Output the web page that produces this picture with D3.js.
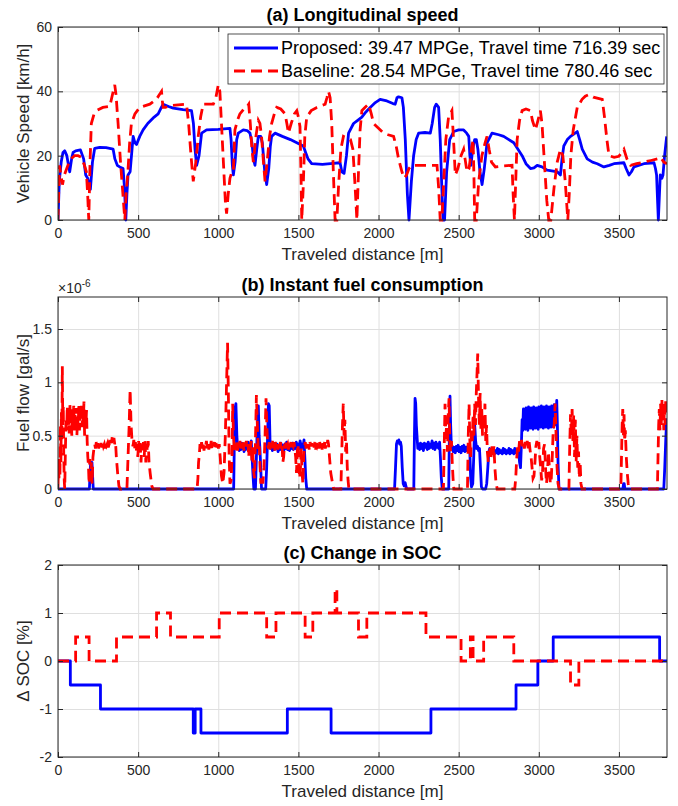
<!DOCTYPE html>
<html>
<head>
<meta charset="utf-8">
<script src="https://cdn.jsdelivr.net/npm/d3@7"></script>
<style>
  body { margin: 0; background: #fff; }
  svg { font-family: "Liberation Sans", Arial, Helvetica, sans-serif; }
  .grid line { stroke: #dfdfdf; stroke-width: 1; }
  .grid path { display: none; }
  .axis path { display: none; }
  .axis line { stroke: #262626; }
  .axis text { fill: #262626; font-size: 14px; }
  .frame { fill: none; stroke: #262626; stroke-width: 1; }
  .title { font-weight: bold; font-size: 18px; fill: #000; text-anchor: middle; }
  .label { font-size: 17px; fill: #262626; text-anchor: middle; }
</style>
</head>
<body>
<script>
(function(){

    // x ticks shared by all three panels
    var distTicks = [0, 500, 1000, 1500, 2000, 2500, 3000, 3500];
    var speedTicks = [0, 20, 40, 60];
    var fuelTicks = [0, 0.5, 1, 1.5];
    var socTicks = [-2, -1, 0, 1, 2];

    var legendLabels = [
        "Proposed: 39.47 MPGe, Travel time 716.39 sec",
        "Baseline: 28.54 MPGe, Travel time 780.46 sec"
    ];

    // [distance m, speed km/h]
    var propSpeed = [[0,0],[8,12],[20,18],[31,21],[42,21.5],[55,20],[73,15],[85,19],[94,21],[110,21.5],[140,21.8],[160,19],[173,14],[185,13],[202,9.5],[215,18],[229,22.3],[260,22.6],[300,22.5],[344,22],[355,19],[370,17],[385,16.5],[406,16],[415,10],[423,0],[430,8],[437,14],[450,15],[462,22],[469,26],[480,24],[490,23.5],[510,26],[531,28],[560,30],[600,32],[625,33],[645,35],[656,36],[690,35.3],[719,34.8],[780,34.3],[833,34],[845,30],[855,22],[865,17],[880,20],[896,27],[927,28],[1000,28.2],[1073,28.5],[1080,25],[1088,17],[1094,14],[1105,18],[1115,25],[1125,27],[1156,28],[1180,27.8],[1198,27],[1210,24],[1220,19],[1229,17],[1240,22],[1250,26],[1265,26],[1275,24],[1290,15],[1302,11],[1315,16],[1325,23],[1333,26],[1354,27],[1400,26],[1450,25],[1490,24],[1531,23],[1545,21],[1560,19],[1583,17.5],[1650,17.3],[1700,17.5],[1760,17.8],[1771,15],[1785,14.5],[1800,20],[1813,27],[1844,30],[1870,31],[1896,32],[1920,33.5],[1948,35],[1980,36.5],[2010,37.5],[2052,37],[2090,36.2],[2104,36],[2115,38],[2125,38.3],[2146,38],[2155,35],[2167,25],[2180,8],[2190,0],[2205,12],[2219,20],[2235,25],[2250,27],[2290,27.2],[2323,27],[2335,30],[2350,35],[2360,36],[2375,35],[2385,25],[2395,10],[2403,0],[2412,0],[2425,15],[2444,25],[2469,27.5],[2500,28],[2531,28],[2550,27],[2563,26],[2570,20],[2577,17],[2587,22],[2600,25],[2610,25],[2620,22],[2633,15],[2646,11],[2660,16],[2677,24],[2708,27],[2750,26.5],[2781,26],[2844,24],[2870,22],[2896,20],[2920,17.5],[2948,16],[2970,16.2],[2990,17],[3020,16.5],[3052,15.5],[3090,15.2],[3115,15],[3135,14],[3145,19],[3156,23],[3178,25],[3198,26],[3220,26.8],[3240,27.5],[3255,25],[3271,22],[3302,19],[3335,18],[3365,17.5],[3406,16.5],[3440,17],[3469,17.5],[3531,17.8],[3545,16],[3563,14],[3578,15],[3594,16.5],[3656,17.5],[3719,17.8],[3728,16],[3735,14],[3742,5],[3746,0],[3752,7],[3758,14],[3768,13],[3775,14],[3785,20],[3798,26]];

    var baseSpeed = [[0,0],[5,10],[10,17],[18,14],[28,11],[40,14],[62,17],[80,19],[104,20],[125,20],[146,19.5],[165,17],[177,15],[185,8],[192,0],[200,18],[208,30],[225,33],[240,34],[280,35],[323,35.3],[340,39],[354,42],[362,39],[375,30],[390,18],[405,8],[417,0],[425,8],[435,14],[447,24],[458,30],[480,33],[510,35],[540,35.5],[573,36],[600,37],[620,38],[646,40],[651,37],[656,35],[670,35],[698,35.5],[750,35.8],[802,36],[815,30],[830,20],[844,12],[860,18],[875,26],[890,32],[906,36],[969,36],[985,38],[1000,42],[1010,40],[1020,30],[1035,15],[1045,5],[1052,2],[1062,8],[1073,13],[1085,15],[1094,15],[1104,28],[1120,31],[1135,33],[1160,34.5],[1177,35],[1190,36],[1200,30],[1210,22],[1219,18],[1235,26],[1250,31],[1260,30],[1270,26],[1282,18],[1292,12],[1305,18],[1320,26],[1333,30],[1350,33],[1365,35],[1390,34.5],[1417,33],[1428,30],[1438,27],[1455,30],[1475,33],[1490,34],[1500,32],[1510,29],[1516,15],[1521,0],[1530,10],[1540,26],[1552,32],[1580,34],[1615,35],[1640,35.5],[1667,36],[1678,38],[1688,40],[1698,38],[1708,30],[1718,15],[1729,0],[1740,0],[1750,10],[1765,22],[1781,26],[1800,25.5],[1825,25],[1840,22],[1852,12],[1865,0],[1875,15],[1885,28],[1896,34],[1915,35],[1938,36],[1955,33],[1969,30],[2000,28.5],[2031,27],[2060,26.5],[2094,26],[2110,23],[2125,19],[2146,15],[2160,13],[2175,14],[2190,16],[2208,17],[2280,17],[2340,17],[2365,17],[2375,10],[2385,0],[2395,0],[2405,10],[2420,25],[2437,32],[2458,34],[2468,25],[2479,14],[2495,16],[2515,20],[2531,22],[2540,19],[2552,15],[2565,16],[2580,22],[2590,25],[2596,12],[2600,0],[2610,0],[2625,12],[2645,20],[2665,24],[2677,26],[2690,22],[2705,18],[2729,16.5],[2780,16.8],[2833,17],[2840,8],[2848,0],[2856,12],[2865,25],[2880,31],[2896,34],[2920,34.5],[2948,34],[2960,31],[2979,28],[2995,31],[3010,34],[3020,30],[3035,18],[3050,6],[3062,0],[3075,0],[3095,10],[3115,18],[3135,22],[3150,20],[3165,12],[3181,0],[3190,8],[3200,20],[3215,28],[3240,35],[3270,37.5],[3290,38.5],[3313,39],[3340,38.2],[3396,37.5],[3410,32],[3425,25],[3438,20],[3470,19.5],[3500,19.8],[3531,22],[3550,19],[3573,17],[3610,17.5],[3656,18],[3700,18.5],[3740,19],[3760,19.5],[3780,18],[3800,17.5]];

    // [distance m, fuel flow x1e-6 gal/s]
    var propFuel = [[0,0],[196,0],[200,0.15],[204,0.25],[208,0.24],[212,0.25],[216,0.12],[220,0],[1096,0],[1100,0.4],[1104,0.75],[1110,0.8],[1116,0.5],[1121,0.38],[1126,0.42],[1131,0.36],[1136,0.41],[1141,0.37],[1146,0.43],[1151,0.38],[1156,0.42],[1161,0.35],[1166,0.4],[1171,0.37],[1176,0.42],[1181,0.38],[1186,0.44],[1191,0.37],[1196,0.42],[1201,0.38],[1206,0.45],[1211,0.3],[1216,0.15],[1222,0],[1232,0],[1238,0.3],[1244,0.6],[1250,0.78],[1255,0.5],[1260,0.38],[1265,0.2],[1270,0],[1296,0],[1302,0.2],[1308,0.5],[1313,0.8],[1318,0.78],[1323,0.45],[1328,0.38],[1333,0.42],[1338,0.36],[1343,0.41],[1349,0.37],[1355,0.43],[1361,0.38],[1367,0.42],[1373,0.35],[1379,0.41],[1385,0.37],[1391,0.43],[1397,0.38],[1403,0.41],[1409,0.36],[1415,0.42],[1421,0.38],[1427,0.44],[1433,0.37],[1439,0.41],[1445,0.36],[1451,0.42],[1457,0.38],[1463,0.43],[1469,0.37],[1475,0.41],[1481,0.38],[1487,0.44],[1493,0.36],[1499,0.42],[1505,0.38],[1511,0.45],[1517,0.37],[1523,0.42],[1529,0.39],[1535,0.46],[1540,0.3],[1546,0.1],[1552,0],[2100,0],[2106,0.2],[2112,0.42],[2117,0.45],[2122,0.44],[2127,0.46],[2132,0.42],[2137,0.44],[2142,0.4],[2148,0.2],[2154,0.05],[2160,0.03],[2166,0.06],[2172,0.02],[2178,0],[2220,0],[2224,0.5],[2228,0.85],[2232,0.8],[2236,0.6],[2240,0.5],[2245,0.38],[2250,0.42],[2256,0.37],[2262,0.43],[2268,0.38],[2274,0.42],[2280,0.36],[2286,0.43],[2292,0.39],[2298,0.42],[2304,0.37],[2310,0.44],[2316,0.38],[2322,0.42],[2328,0.39],[2334,0.45],[2340,0.38],[2346,0.43],[2352,0.37],[2358,0.44],[2364,0.39],[2370,0.42],[2376,0.38],[2381,0.44],[2386,0.3],[2392,0.1],[2398,0],[2438,0],[2442,0.5],[2446,0.87],[2450,0.6],[2455,0.38],[2461,0.4],[2467,0.35],[2473,0.39],[2479,0.34],[2485,0.4],[2491,0.36],[2497,0.41],[2503,0.35],[2509,0.39],[2515,0.34],[2521,0.4],[2527,0.36],[2533,0.41],[2539,0.35],[2545,0.39],[2551,0.36],[2557,0.4],[2563,0.35],[2569,0.38],[2575,0.1],[2580,0.02],[2588,0.05],[2594,0.3],[2600,0.6],[2606,0.45],[2612,0.38],[2618,0.4],[2624,0.36],[2630,0.38],[2636,0.2],[2642,0.02],[2650,0],[2668,0],[2675,0.05],[2682,0.2],[2688,0.35],[2694,0.38],[2700,0.33],[2706,0.37],[2712,0.34],[2718,0.38],[2724,0.33],[2730,0.36],[2736,0.34],[2742,0.38],[2748,0.33],[2754,0.37],[2760,0.34],[2766,0.36],[2772,0.33],[2778,0.38],[2784,0.34],[2790,0.37],[2796,0.33],[2802,0.36],[2808,0.34],[2814,0.38],[2820,0.33],[2826,0.37],[2832,0.34],[2838,0.36],[2844,0.33],[2850,0.38],[2856,0.34],[2862,0.36],[2868,0.33],[2875,0.35],[2880,0.25],[2886,0.2],[2891,0.4],[2896,0.65],[2900,0.55],[2904,0.75],[2908,0.58],[2912,0.72],[2916,0.56],[2920,0.76],[2924,0.6],[2928,0.73],[2932,0.55],[2936,0.77],[2940,0.6],[2944,0.74],[2948,0.57],[2952,0.76],[2956,0.6],[2960,0.72],[2964,0.56],[2968,0.77],[2972,0.6],[2976,0.75],[2980,0.57],[2984,0.76],[2988,0.6],[2992,0.73],[2996,0.56],[3000,0.77],[3004,0.61],[3008,0.74],[3012,0.58],[3016,0.78],[3020,0.6],[3024,0.74],[3028,0.57],[3032,0.77],[3036,0.61],[3040,0.75],[3044,0.58],[3048,0.78],[3052,0.6],[3056,0.74],[3060,0.57],[3064,0.77],[3068,0.61],[3072,0.76],[3076,0.58],[3080,0.78],[3084,0.6],[3088,0.75],[3092,0.58],[3096,0.79],[3100,0.6],[3104,0.76],[3108,0.62],[3112,0.83],[3116,0.6],[3120,0.25],[3126,0],[3525,0],[3529,0.05],[3533,0.05],[3537,0],[3780,0],[3786,0.2],[3792,0.45],[3798,0.65],[3800,0.66]];

    var baseFuel = [[0,0],[3,0.25],[6,0.1],[9,0.3],[12,0.12],[15,0.6],[18,0.25],[21,0.72],[24,0.45],[27,1.15],[30,0.6],[33,0.78],[36,0.3],[39,0.08],[42,0],[46,0.35],[50,0.66],[54,0.55],[58,0.78],[62,0.6],[66,0.73],[70,0.52],[74,0.8],[78,0.62],[82,0.76],[86,0.5],[90,0.7],[94,0.6],[98,0.78],[102,0.55],[106,0.7],[110,0.62],[114,0.76],[118,0.5],[122,0.68],[126,0.6],[130,0.8],[134,0.55],[138,0.72],[142,0.65],[146,0.8],[150,0.58],[154,0.76],[158,0.62],[162,0.82],[166,0.5],[170,0.72],[174,0.6],[178,0.74],[182,0.45],[186,0.3],[190,0.22],[194,0.05],[198,0.28],[203,0.1],[208,0.25],[213,0.05],[218,0.3],[224,0.38],[229,0.42],[234,0.38],[239,0.44],[244,0.4],[249,0.43],[254,0.38],[259,0.44],[264,0.4],[269,0.43],[274,0.39],[279,0.44],[284,0.4],[289,0.42],[294,0.38],[299,0.44],[304,0.41],[309,0.43],[314,0.39],[319,0.42],[324,0.4],[329,0.46],[334,0.43],[339,0.5],[344,0.45],[349,0.48],[354,0.42],[359,0.44],[364,0.3],[372,0.15],[380,0.03],[388,0],[430,0],[437,0.3],[444,0.6],[450,0.93],[456,0.6],[462,0.45],[468,0.4],[473,0.46],[478,0.38],[483,0.44],[488,0.35],[493,0.42],[498,0.3],[503,0.45],[508,0.36],[513,0.43],[518,0.25],[523,0.42],[528,0.36],[533,0.44],[538,0.3],[543,0.45],[548,0.25],[553,0.42],[558,0.35],[563,0.45],[568,0.25],[575,0.15],[585,0.03],[594,0],[868,0],[873,0.1],[877,0.25],[882,0.32],[886,0.42],[891,0.37],[896,0.44],[901,0.38],[906,0.43],[911,0.36],[916,0.42],[921,0.4],[926,0.45],[931,0.38],[936,0.43],[941,0.37],[946,0.42],[951,0.39],[956,0.45],[961,0.38],[966,0.43],[971,0.4],[976,0.44],[981,0.37],[986,0.43],[991,0.39],[996,0.44],[1001,0.38],[1006,0.42],[1012,0.3],[1020,0.12],[1028,0.05],[1036,0.15],[1044,0.5],[1052,1.0],[1058,1.37],[1063,0.9],[1068,0.3],[1073,0.05],[1080,0.08],[1086,0.3],[1090,0.8],[1095,0.5],[1100,0.35],[1105,0.42],[1110,0.38],[1115,0.44],[1120,0.36],[1125,0.42],[1130,0.39],[1135,0.45],[1140,0.37],[1145,0.43],[1150,0.38],[1155,0.44],[1160,0.36],[1165,0.43],[1170,0.4],[1175,0.45],[1180,0.38],[1185,0.42],[1190,0.3],[1195,0.43],[1200,0.38],[1205,0.45],[1210,0.25],[1215,0.4],[1220,0.18],[1226,0.1],[1232,0.45],[1238,0.88],[1244,0.6],[1250,0.35],[1256,0.4],[1261,0.2],[1266,0.05],[1272,0.12],[1278,0.05],[1285,0.2],[1292,0.5],[1298,0.85],[1303,0.6],[1308,0.42],[1313,0.38],[1318,0.44],[1323,0.37],[1328,0.43],[1333,0.39],[1338,0.45],[1343,0.38],[1348,0.42],[1353,0.36],[1358,0.44],[1363,0.39],[1368,0.42],[1373,0.37],[1378,0.43],[1383,0.4],[1388,0.44],[1393,0.38],[1398,0.42],[1403,0.25],[1408,0.3],[1413,0.42],[1418,0.38],[1423,0.44],[1428,0.4],[1433,0.42],[1438,0.37],[1443,0.43],[1448,0.39],[1453,0.44],[1458,0.38],[1463,0.42],[1468,0.4],[1473,0.44],[1478,0.37],[1483,0.3],[1488,0.15],[1493,0.35],[1498,0.42],[1503,0.2],[1508,0.1],[1513,0.2],[1518,0.38],[1523,0.15],[1528,0.05],[1533,0.3],[1538,0.4],[1543,0.44],[1548,0.38],[1553,0.43],[1558,0.39],[1563,0.42],[1568,0.37],[1573,0.44],[1578,0.4],[1583,0.43],[1588,0.38],[1593,0.42],[1598,0.39],[1603,0.44],[1608,0.37],[1613,0.43],[1618,0.4],[1623,0.42],[1628,0.38],[1633,0.44],[1638,0.39],[1643,0.42],[1648,0.37],[1653,0.43],[1658,0.4],[1663,0.44],[1668,0.38],[1673,0.42],[1678,0.4],[1683,0.46],[1688,0.42],[1694,0.3],[1702,0.15],[1710,0.08],[1720,0],[1765,0],[1770,0.3],[1775,0.6],[1780,0.8],[1785,0.5],[1790,0.65],[1795,0.35],[1800,0.45],[1805,0.2],[1810,0.08],[1815,0],[2405,0],[2410,0.4],[2415,0.8],[2420,0.5],[2425,0.6],[2430,0.35],[2435,0.7],[2440,0.85],[2445,0.45],[2450,0.35],[2455,0.45],[2460,0.25],[2465,0.1],[2470,0],[2555,0],[2560,0.5],[2565,0.8],[2570,0.45],[2575,0.3],[2580,0.55],[2585,0.45],[2590,0.7],[2595,0.5],[2600,0.8],[2605,0.6],[2610,0.9],[2615,1.1],[2619,1.27],[2624,0.85],[2629,0.6],[2634,0.9],[2639,0.55],[2644,0.75],[2649,0.5],[2654,0.7],[2659,0.55],[2664,0.8],[2669,0.45],[2674,0.6],[2679,0.35],[2685,0.25],[2690,0.3],[2696,0.38],[2702,0.3],[2708,0.4],[2714,0.32],[2720,0.4],[2726,0.2],[2732,0.08],[2740,0],[2850,0],[2856,0.1],[2862,0.28],[2868,0.4],[2874,0.35],[2880,0.45],[2886,0.42],[2892,0.46],[2898,0.4],[2904,0.45],[2910,0.38],[2916,0.44],[2922,0.4],[2928,0.45],[2934,0.38],[2940,0.44],[2946,0.36],[2952,0.3],[2958,0.2],[2964,0.1],[2970,0.12],[2976,0.25],[2982,0.4],[2988,0.45],[2994,0.38],[3000,0.44],[3006,0.3],[3012,0.2],[3018,0.08],[3024,0.18],[3030,0.38],[3036,0.42],[3042,0.2],[3048,0.05],[3054,0.15],[3060,0.35],[3066,0.2],[3072,0.05],[3078,0.1],[3084,0.3],[3090,0.55],[3096,0.6],[3102,0.8],[3108,0.5],[3114,0.2],[3120,0.05],[3128,0],[3188,0],[3193,0.4],[3198,0.7],[3203,0.5],[3208,0.75],[3213,0.45],[3218,0.7],[3223,0.3],[3228,0.65],[3233,0.25],[3238,0.5],[3243,0.2],[3248,0.35],[3253,0.1],[3258,0.25],[3263,0.05],[3270,0],[3512,0],[3516,0.3],[3520,0.6],[3524,0.75],[3528,0.5],[3532,0.7],[3536,0.45],[3540,0.55],[3546,0.3],[3552,0.15],[3558,0.05],[3564,0],[3740,0],[3744,0.3],[3748,0.6],[3752,0.75],[3756,0.55],[3760,0.8],[3764,0.6],[3768,0.85],[3772,0.65],[3776,0.78],[3780,0.55],[3784,0.8],[3788,0.6],[3792,0.85],[3796,0.7],[3800,0.82]];

    // [distance m, delta SOC %] step levels, held until the next point
    var propSoc = [[0,0],[77,-0.5],[265,-1],[844,-1.5],[856,-1],[892,-1.5],[1431,-1],[1704,-1.5],[2327,-1],[2858,-0.5],[2994,0],[3090,0.5],[3754,0],[3800,0]];
    var baseSoc = [[0,0],[110,0.5],[194,0],[365,0.5],[615,1],[702,0.5],[1006,1],[1302,0.5],[1360,1],[1542,0.5],[1590,1],[1729,1.5],[1740,1],[1875,0.5],[1927,1],[2296,0.5],[2515,0],[2573,0.5],[2590,0],[2656,0.5],[2844,0],[3198,-0.5],[3250,0],[3800,0]];

    var left = 58, right = 667;

    var svg = d3.select("body")
        .append("svg")
        .attr("width", 678)
        .attr("height", 806);

    var x = d3.scaleLinear()
        .domain([0, 3800])
        .range([left, right]);

    var panels = [
        {id: "a", top: 27, bottom: 220, domain: [0, 60], ticks: speedTicks,
         title: "(a) Longitudinal speed", ylabel: "Vehicle Speed [km/h]",
         prop: propSpeed, base: baseSpeed, curve: d3.curveLinear},
        {id: "b", top: 297, bottom: 489, domain: [0, 1.8], ticks: fuelTicks,
         title: "(b) Instant fuel consumption", ylabel: "Fuel flow [gal/s]",
         prop: propFuel, base: baseFuel, curve: d3.curveLinear},
        {id: "c", top: 565, bottom: 757, domain: [-2, 2], ticks: socTicks,
         title: "(c) Change in SOC", ylabel: "\u0394 SOC [%]",
         prop: propSoc, base: baseSoc, curve: d3.curveStepAfter}
    ];

    panels.forEach(function(p) {
        var h = p.bottom - p.top;
        var y = d3.scaleLinear()
            .domain(p.domain)
            .range([p.bottom, p.top]);

        var g = svg.append("g");

        g.append("rect")
            .attr("x", left).attr("y", p.top)
            .attr("width", right - left).attr("height", h)
            .attr("fill", "#fff");

        // grid
        g.append("g")
            .attr("class", "grid")
            .attr("transform", "translate(0," + p.bottom + ")")
            .call(d3.axisBottom(x).tickValues(distTicks).tickSize(-h).tickFormat(""));
        g.append("g")
            .attr("class", "grid")
            .attr("transform", "translate(" + left + ",0)")
            .call(d3.axisLeft(y).tickValues(p.ticks).tickSize(-(right - left)).tickFormat(""));

        // clip for lines
        svg.append("clipPath")
            .attr("id", "clip-" + p.id)
            .append("rect")
            .attr("x", left).attr("y", p.top - 2)
            .attr("width", right - left).attr("height", h + 4);

        var line = d3.line()
            .x(function(d) { return x(d[0]); })
            .y(function(d) { return y(d[1]); })
            .curve(p.curve);

        var lines = g.append("g").attr("clip-path", "url(#clip-" + p.id + ")");
        lines.append("path")
            .datum(p.prop)
            .attr("d", line)
            .attr("fill", "none")
            .attr("stroke", "#0000ff")
            .attr("stroke-width", 2.8)
            .attr("stroke-linejoin", "round");
        lines.append("path")
            .datum(p.base)
            .attr("d", line)
            .attr("fill", "none")
            .attr("stroke", "#ff0000")
            .attr("stroke-width", 2.8)
            .attr("stroke-dasharray", "11,6");

        // axes, ticks inside
        g.append("g")
            .attr("class", "axis")
            .attr("transform", "translate(0," + p.bottom + ")")
            .call(d3.axisBottom(x).tickValues(distTicks).tickSizeInner(-5).tickSizeOuter(0).tickPadding(8)
                .tickFormat(function(d) { return String(d); }));
        g.append("g")
            .attr("class", "axis")
            .attr("transform", "translate(0," + p.top + ")")
            .call(d3.axisTop(x).tickValues(distTicks).tickSizeInner(-5).tickSizeOuter(0).tickFormat(""));
        g.append("g")
            .attr("class", "axis")
            .attr("transform", "translate(" + left + ",0)")
            .call(d3.axisLeft(y).tickValues(p.ticks).tickSizeInner(-5).tickSizeOuter(0).tickPadding(6)
                .tickFormat(function(d) { return String(d); }));
        g.append("g")
            .attr("class", "axis")
            .attr("transform", "translate(" + right + ",0)")
            .call(d3.axisRight(y).tickValues(p.ticks).tickSizeInner(-5).tickSizeOuter(0).tickFormat(""));

        g.append("rect")
            .attr("class", "frame")
            .attr("x", left).attr("y", p.top)
            .attr("width", right - left).attr("height", h);

        g.append("text")
            .attr("class", "title")
            .attr("x", (left + right) / 2)
            .attr("y", p.top - 6)
            .text(p.title);

        g.append("text")
            .attr("class", "label")
            .attr("x", (left + right) / 2)
            .attr("y", p.bottom + 40)
            .text("Traveled distance [m]");

        g.append("text")
            .attr("class", "label")
            .attr("transform", "translate(29," + ((p.top + p.bottom) / 2) + ") rotate(-90)")
            .text(p.ylabel);

        if (p.id === "b") {
            var ex = g.append("text")
                .attr("x", left)
                .attr("y", p.top - 4)
                .attr("fill", "#262626")
                .style("font-size", "14px");
            ex.append("tspan").text("\u00d710");
            ex.append("tspan").attr("dy", -6).style("font-size", "10px").text("-6");
        }

        if (p.id === "a") {
            var lg = g.append("g");
            lg.append("rect")
                .attr("x", 228).attr("y", 34)
                .attr("width", 436).attr("height", 50)
                .attr("fill", "#fff")
                .attr("stroke", "#262626")
                .attr("stroke-width", 0.8);
            var rows = [
                {color: "#0000ff", dash: null, label: legendLabels[0]},
                {color: "#ff0000", dash: "11,6", label: legendLabels[1]}
            ];
            rows.forEach(function(r, i) {
                var yy = 48 + i * 23;
                lg.append("line")
                    .attr("x1", 234).attr("x2", 278)
                    .attr("y1", yy).attr("y2", yy)
                    .attr("stroke", r.color)
                    .attr("stroke-width", 2.8)
                    .attr("stroke-dasharray", r.dash);
                lg.append("text")
                    .attr("x", 281).attr("y", yy + 6)
                    .attr("fill", "#000")
                    .style("font-size", "18px")
                    .text(r.label);
            });
        }
    });

})();
</script>
</body>
</html>
